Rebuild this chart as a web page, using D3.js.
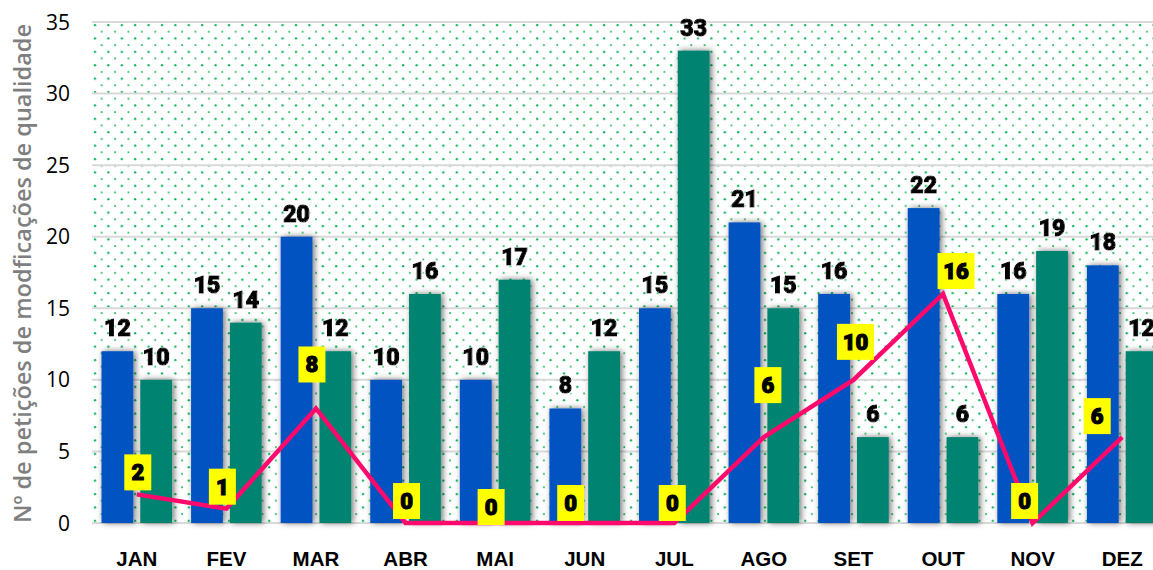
<!DOCTYPE html>
<html><head><meta charset="utf-8">
<script src="https://cdn.jsdelivr.net/npm/d3@7"></script>
<style>
html,body{margin:0;padding:0;background:#fff;}
svg{display:block;}
</style></head>
<body>
<svg id="chart" width="1153" height="570"></svg>
<script>
// ---- data ----
const months = ["JAN","FEV","MAR","ABR","MAI","JUN","JUL","AGO","SET","OUT","NOV","DEZ"];
const seriesBlue = [12,15,20,10,10,8,15,21,16,22,16,18];
const seriesTeal = [10,14,12,16,17,12,33,15,6,6,19,12];
const seriesLine = [2,1,8,0,0,0,0,6,10,16,0,6];
const yTicks = [0,5,10,15,20,25,30,35];
const yTitle = "Nº de petições de modficações de qualidade";
// label nudges (style, px)
const lineLabelDx = [1,-4,-4,1,-4,-14,-2,4,2,13,-8,-25];
const lineLabelDy = [-22,-22,-44,-22,-16,-20,-20,-52,-38,-23,-22,-21];

const W = 1153, H = 570;
const m = {left:92, right:1167, top:22, bottom:523};
const svg = d3.select("#chart");

const defs = svg.append("defs");
const pat = defs.append("pattern").attr("id","dots").attr("patternUnits","userSpaceOnUse")
  .attr("x", m.left).attr("y", m.top).attr("width",13.4).attr("height",13.4);
pat.append("circle").attr("cx",3).attr("cy",3).attr("r",1.15).attr("fill","#00b050");
pat.append("circle").attr("cx",9.7).attr("cy",9.7).attr("r",1.0).attr("fill","#2fbf62");
const shadow = defs.append("filter").attr("id","shadow").attr("x","-40%").attr("y","-10%").attr("width","180%").attr("height","120%");
shadow.append("feDropShadow").attr("dx",2).attr("dy",0).attr("stdDeviation",3)
  .attr("flood-color","#000").attr("flood-opacity",0.55);
const glow = defs.append("filter").attr("id","glow").attr("x","-30%").attr("y","-30%").attr("width","160%").attr("height","160%");
glow.append("feDropShadow").attr("dx",1).attr("dy",1).attr("stdDeviation",1.5)
  .attr("flood-color","#fff").attr("flood-opacity",1);

const x = d3.scaleBand().domain(months).range([m.left, m.right]).paddingInner(0).paddingOuter(0);
const inner = d3.scaleBand().domain(["blue","teal"]).range([0, x.bandwidth()]).paddingInner(0.18).paddingOuter(0.245);
const y = d3.scaleLinear().domain([0,35]).range([m.bottom, m.top]);

// background pattern
svg.append("rect").attr("x",m.left).attr("y",m.top).attr("width",W-m.left).attr("height",m.bottom-m.top)
  .attr("fill","url(#dots)");

// gridlines
svg.append("g").selectAll("line").data(yTicks).join("line")
  .attr("x1",m.left).attr("x2",W).attr("y1",d=>y(d)).attr("y2",d=>y(d))
  .attr("stroke","#d9d9d9").attr("stroke-width",2);

// y tick labels
svg.append("g").selectAll("text").data(yTicks).join("text")
  .attr("x",70).attr("y",d=>y(d)).attr("dy","0.36em").attr("text-anchor","end")
  .attr("font-family","'Open Sans', sans-serif").attr("font-size",21).attr("fill","#000")
  .text(d=>d);

// y title
svg.append("text").attr("transform",`translate(31,${(m.top+m.bottom)/2 + 1}) rotate(-90)`)
  .attr("text-anchor","middle").attr("font-family","'Open Sans', sans-serif")
  .attr("font-weight",600).attr("font-size",23.5).attr("fill","#7f7f7f")
  .text(yTitle);

// x labels
svg.append("g").selectAll("text").data(months).join("text")
  .attr("x",d=>x(d)+x.bandwidth()/2).attr("y",566).attr("text-anchor","middle")
  .attr("font-family","'Liberation Sans', Arial, sans-serif").attr("font-weight",700)
  .attr("font-size",20.5).attr("fill","#000").text(d=>d);

// bars
const groups = [
  {key:"blue", vals:seriesBlue, color:"#0052c1"},
  {key:"teal", vals:seriesTeal, color:"#05836f"}
];
const barG = svg.append("g");
groups.forEach(g=>{
  barG.append("g").attr("filter","url(#shadow)").selectAll("rect").data(g.vals).join("rect")
    .attr("x",(d,i)=>x(months[i])+inner(g.key)).attr("width",inner.bandwidth())
    .attr("y",d=>y(d)).attr("height",d=>y(0)-y(d)).attr("fill",g.color);
});
// bar labels
groups.forEach(g=>{
  svg.append("g").selectAll("text").data(g.vals).join("text")
    .attr("x",(d,i)=>x(months[i])+inner(g.key)+inner.bandwidth()/2)
    .attr("y",d=>y(d)-15).attr("text-anchor","middle")
    .attr("font-family","Roboto, sans-serif").attr("font-weight",900).attr("font-size",23)
    .attr("fill","#000").attr("stroke","#000").attr("stroke-width",1.2)
    .attr("filter","url(#glow)").text(d=>d);
});

// line
const cx = i => x(months[i]) + x.bandwidth()/2;
svg.append("path").datum(seriesLine)
  .attr("d", d3.line().x((d,i)=>cx(i)).y(d=>y(d)))
  .attr("fill","none").attr("stroke","#ff0a6c").attr("stroke-width",4.5)
  .attr("stroke-linejoin","miter");

// line labels
const ll = svg.append("g").selectAll("g").data(seriesLine).join("g")
  .attr("transform",(d,i)=>`translate(${cx(i)+lineLabelDx[i]},${y(d)+lineLabelDy[i]})`);
ll.append("rect")
  .attr("x",d=>-(String(d).length>1?18.5:13.5)).attr("width",d=>String(d).length>1?37:27)
  .attr("y",-18).attr("height",36).attr("fill","#ffff00");
ll.append("text").attr("text-anchor","middle").attr("dy","0.36em")
  .attr("font-family","Roboto, sans-serif").attr("font-weight",900).attr("font-size",22)
  .attr("fill","#000").attr("stroke","#000").attr("stroke-width",1.1).text(d=>d);
</script>
</body></html>
